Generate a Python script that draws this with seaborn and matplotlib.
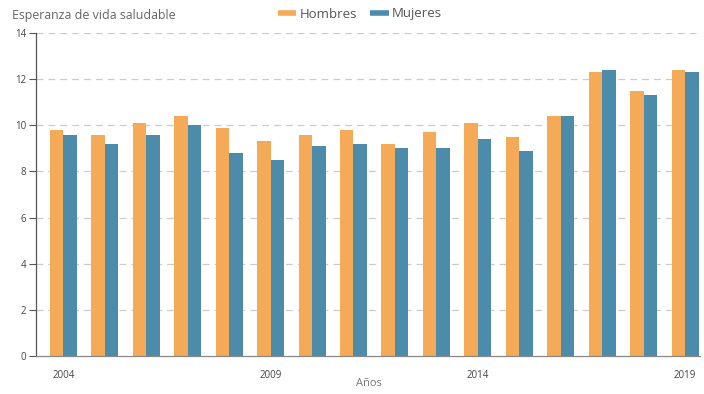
import matplotlib
matplotlib.use("Agg")
import matplotlib.pyplot as plt
import seaborn as sns
import pandas as pd
from matplotlib.lines import Line2D

# Healthy life expectancy by sex, 2004-2019
years = list(range(2004, 2020))
hombres = [9.8, 9.6, 10.1, 10.4, 9.9, 9.3, 9.6, 9.8, 9.2, 9.7, 10.1, 9.5, 10.4, 12.3, 11.5, 12.4]
mujeres = [9.6, 9.2, 9.6, 10.0, 8.8, 8.5, 9.1, 9.2, 9.0, 9.0, 9.4, 8.9, 10.4, 12.4, 11.3, 12.3]
series_names = ["Hombres", "Mujeres"]
colors = ["#F4AA57", "#4C8BAA"]
shown_years = ["2004", "2009", "2014", "2019"]
y_ticks = [0, 2, 4, 6, 8, 10, 12, 14]

df = pd.DataFrame({
    "Año": [str(y) for y in years] * 2,
    "valor": hombres + mujeres,
    "Sexo": [series_names[0]] * len(years) + [series_names[1]] * len(years),
})

sns.set_theme(style="white")
plt.rcParams["font.family"] = ["Open Sans", "DejaVu Sans"]

fig = plt.figure(figsize=(7.04, 3.94), dpi=100)
W, H = 704, 394
ax = fig.add_axes([36 / W, (H - 356) / H, (700 - 36) / W, (356 - 33) / H])

sns.barplot(data=df, x="Año", y="valor", hue="Sexo", palette=colors,
            width=0.65, ax=ax, legend=False, saturation=1, linewidth=0)

ax.set_ylim(0, 14)
ax.set_xlim(-0.66, 15.36)
ax.set_yticks(y_ticks)
ax.set_yticklabels([str(v) for v in y_ticks])

labels = [lab.get_text() for lab in ax.get_xticklabels()]
ax.set_xticks([i for i, l in enumerate(labels) if l in shown_years])
ax.set_xticklabels([l for l in labels if l in shown_years])

for v in y_ticks[1:]:
    ax.axhline(v, color="#CCCCCC", lw=0.9, ls=(0, (5.5, 4)), zorder=0)

for s in ["top", "right"]:
    ax.spines[s].set_visible(False)
ax.spines["left"].set_color("#555555")
ax.spines["left"].set_linewidth(0.9)
ax.spines["bottom"].set_color("#888888")
ax.spines["bottom"].set_linewidth(0.9)

ax.tick_params(axis="y", left=True, length=5, width=0.8, color="#555555",
               labelsize=7, labelcolor="#444444", pad=2)
ax.tick_params(axis="x", bottom=False, labelsize=7, labelcolor="#444444", pad=4)

ax.set_ylabel("")
ax.set_xlabel("")
fig.text(369 / W, 1 - 384 / H, "Años", fontsize=8, color="#777777",
         ha="center", va="center")

fig.text(12 / W, 1 - 15 / H, "Esperanza de vida saludable", fontsize=8.9,
         color="#666666", va="center", ha="left")

handles = [Line2D([0], [0], color=c, lw=4, solid_capstyle="butt") for c in colors]
fig.legend(handles, series_names, loc="center", bbox_to_anchor=(360 / W, 1 - 14 / H),
           ncol=2, frameon=False, fontsize=9.5, handlelength=1.4, handletextpad=0.25,
           columnspacing=1.0, labelcolor="#555555")

fig.savefig("out.png", dpi=100)
